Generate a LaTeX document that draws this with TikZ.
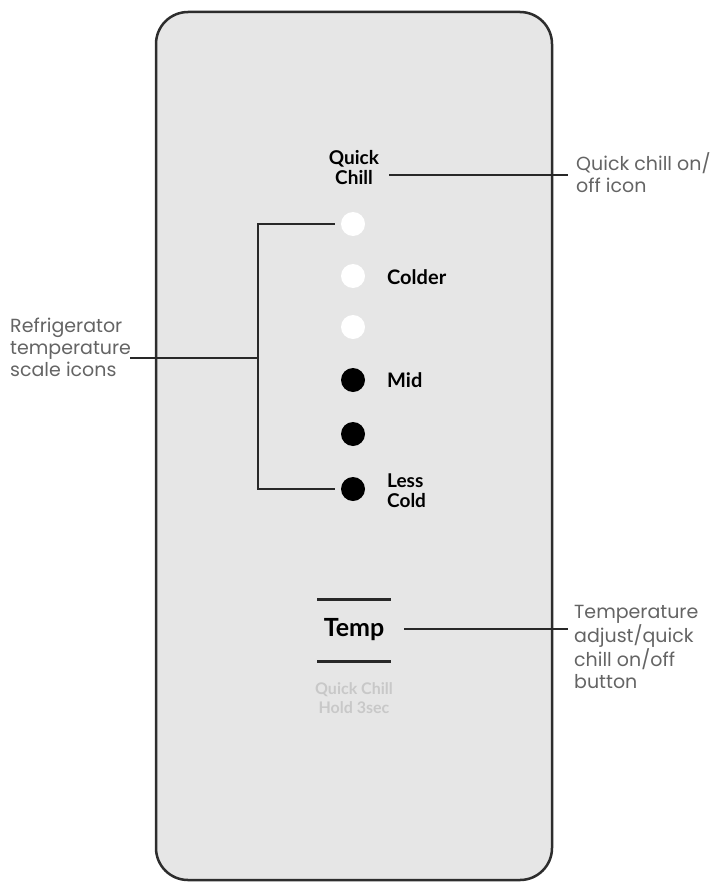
\documentclass[tikz,border=0pt]{standalone}
\usepackage{fontspec}
\setmainfont{Poppins}
\newfontfamily\panelfont{Lato}
\definecolor{panelfill}{RGB}{230,230,230}
\definecolor{edgegray}{RGB}{45,45,45}
\definecolor{lblgray}{RGB}{100,100,100}
\definecolor{faintgray}{RGB}{200,200,200}
\definecolor{linegray}{RGB}{40,40,40}
\begin{document}
\begin{tikzpicture}[x=1pt,y=-1pt,
  paneltext/.style={font=\panelfont\bfseries\fontsize{19}{20}\selectfont, align=left, inner sep=0pt},
  callout/.style={font=\fontsize{19}{22}\selectfont, text=lblgray, align=left, inner sep=0pt},
  conn/.style={draw=linegray, line width=1.3pt},
  dotw/.style={circle, fill=white, draw=none, minimum size=24pt, inner sep=0pt},
  dotb/.style={circle, fill=black, draw=none, minimum size=24pt, inner sep=0pt},
  bar/.style={draw=linegray, line width=3pt}]
\useasboundingbox (0,0) rectangle (725,883);
% panel
\draw[edgegray, line width=2.5pt, fill=panelfill, rounded corners=32pt] (156,12) rectangle (552,880);
% quick chill icon
\node[paneltext, align=center] (qc) at (354,168) {Quick\\Chill};
% dots
\node[dotw] (d1) at (353,224) {};
\node[dotw] (d2) at (353,276) {};
\node[dotw] (d3) at (353,327) {};
\node[dotb] (d4) at (353,380) {};
\node[dotb] (d5) at (353,434) {};
\node[dotb] (d6) at (353,489) {};
\node[paneltext, anchor=west, font=\panelfont\bfseries\fontsize{20}{20}\selectfont] (colder) at (387,277) {Colder};
\node[paneltext, anchor=west, font=\panelfont\bfseries\fontsize{20}{20}\selectfont] (mid) at (387,380) {Mid};
\node[paneltext, anchor=west, align=left] (less) at (387,491) {Less\\Cold};
% temp button
\draw[bar] (317,599) -- (391,599);
\draw[bar] (317,661) -- (391,661);
\node[font=\panelfont\bfseries\fontsize{25}{25}\selectfont, inner sep=0pt] (temp) at (354,630) {Temp};
\node[font=\panelfont\bfseries\fontsize{16}{19}\selectfont, text=faintgray, align=center, inner sep=0pt] (hold) at (354,698) {Quick Chill\\Hold 3sec};
% callouts
\node[callout, anchor=west] (rq) at (576,173) {Quick chill on/\\off icon};
\node[callout, anchor=west] (rt) at (574,647) {Temperature\\adjust/quick\\chill on/off\\button};
\node[callout, anchor=west] (lt) at (10,347) {Refrigerator\\temperature\\scale icons};
% connectors
\coordinate (qend) at (568,175);
\draw[conn] ([xshift=10pt]qc.east |- qend) -- (qend);
\coordinate (tend) at (568,629);
\draw[conn] ([xshift=20pt]temp.east |- tend) -- (tend);
\coordinate (bk) at (258,358);
\coordinate (lstart) at (130,358);
\draw[conn] ([xshift=-6pt]d1.west) -| (bk) |- ([xshift=-6pt]d6.west);
\draw[conn] (lstart) -- (bk);
\end{tikzpicture}
\end{document}
